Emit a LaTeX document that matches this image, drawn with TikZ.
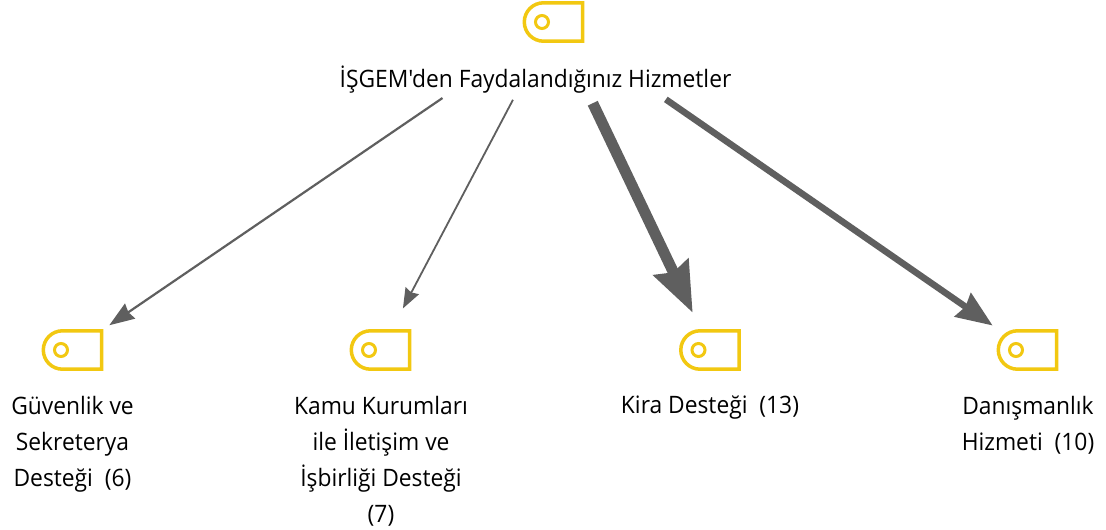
\documentclass[tikz,border=0pt]{standalone}
\usepackage{fontspec}
\setmainfont{Open Sans}
\newfontfamily\labelfont[FakeStretch=0.95]{Open Sans}
\usetikzlibrary{arrows.meta}
\definecolor{tagyellow}{HTML}{F2C811}
\definecolor{linkgray}{HTML}{5F5F5F}
\tikzset{
  x=1pt,y=-1pt,
  tagbox/.style={inner sep=0pt,minimum width=61pt,minimum height=42pt},
  tagline/.style={draw=tagyellow,line width=3.5pt},
  taghole/.style={draw=tagyellow,line width=3pt},
  tagtext/.style={align=center,anchor=north,inner sep=0pt,text=black,font=\labelfont\fontsize{24}{36}\selectfont},
  link/.style={draw=linkgray,line width=#1,line join=miter},
}
\newcommand{\tagicon}[3]{%
  \node[tagbox] (#1) at (#2,#3) {};
  \draw[tagline,shift={(#1.center)}] (28.7,-19.2) -- (28.7,19.2) -- (-10.5,19.2)
    arc[start angle=90,end angle=270,radius=19.2] -- cycle;
  \draw[taghole,shift={(#1.center)}] (-12,0) circle[radius=6.5];
}
\begin{document}
\begin{tikzpicture}
\useasboundingbox (0,0) rectangle (1106,530);
\fill[white] (0,0) rectangle (1106,530);
\tagicon{top}{554}{22}
\tagicon{a}{73}{350}
\tagicon{b}{381}{350}
\tagicon{c}{710.5}{350}
\tagicon{d}{1028}{350}
\node[tagtext] (toptext) at (535.5,66) {İŞGEM'den Faydalandığınız Hizmetler};
\node[tagtext] (atext) at (72.5,396) {Güvenlik ve\\Sekreterya\\Desteği~ (6)};
\node[tagtext] (btext) at (381,396) {Kamu Kurumları\\ile İletişim ve\\İşbirliği Desteği\\(7)};
\node[tagtext] (ctext) at (710,396) {Kira Desteği~ (13)};
\node[tagtext] (dtext) at (1028,396) {Danışmanlık\\Hizmeti~ (10)};
\draw[link=2.2pt,-{Stealth[length=25pt,width=18pt,inset=2pt]},shorten <=135pt,shorten >=44pt] (top.center) -- (a.center);
\draw[link=1.8pt,-{Stealth[length=20pt,width=15pt,inset=2pt]},shorten <=88pt,shorten >=47pt] (top.center) -- (b.center);
\draw[link=11pt,-{Stealth[length=50pt,width=37pt,inset=5pt]},shorten <=90pt,shorten >=41pt] (top.center) -- (c.center);
\draw[link=6.5pt,-{Stealth[length=36pt,width=28pt,inset=3pt]},shorten <=136pt,shorten >=43pt] (top.center) -- (d.center);
\end{tikzpicture}
\end{document}
